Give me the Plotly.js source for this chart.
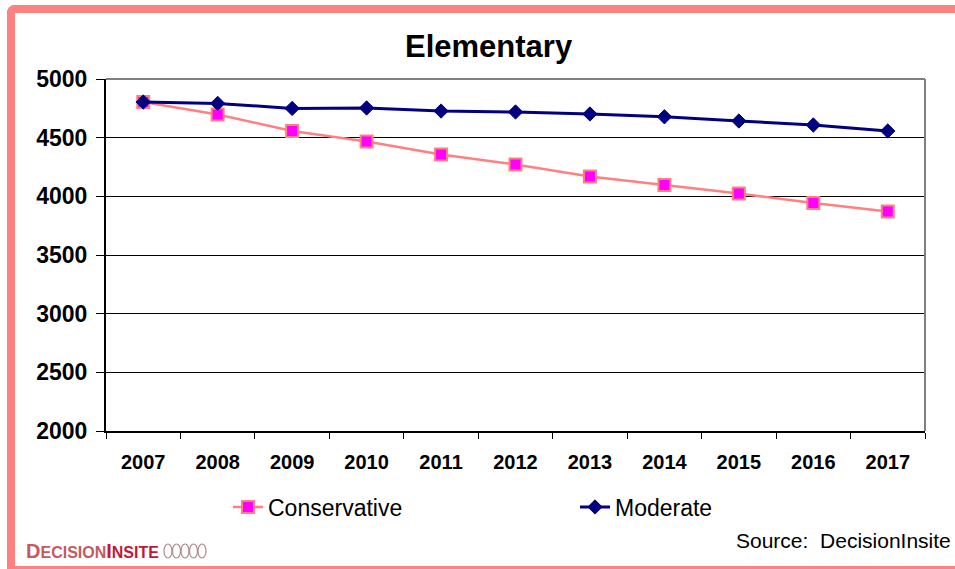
<!DOCTYPE html>
<html>
<head>
<meta charset="utf-8">
<script src="https://cdn.plot.ly/plotly-3.0.1.min.js"></script>
<style>
  html, body { margin: 0; padding: 0; background: #ffffff; }
  #wrap { position: relative; width: 955px; height: 569px; overflow: hidden; }
  #chart { position: absolute; left: 0; top: 0; width: 955px; height: 569px; }
  #frame {
    position: absolute; left: 7px; top: 5px; width: 948px; height: 553px;
    border-top: 8px solid #FF8080; border-left: 8px solid #FF8080; border-bottom: 3px solid #FF8080;
    border-top-left-radius: 8px; pointer-events: none; box-sizing: content-box;
  }
</style>
</head>
<body>
<div id="wrap">
  <div id="chart"></div>
  <div id="frame"></div>
</div>
<script>
// ---- data ----
const years = ["2007","2008","2009","2010","2011","2012","2013","2014","2015","2016","2017"];
const conservative = [4804, 4697, 4557, 4467, 4357, 4271, 4169, 4097, 4024, 3943, 3871];
const moderate = [4804, 4792, 4749, 4753, 4727, 4719, 4702, 4678, 4642, 4608, 4557];
const seriesNames = ["Conservative", "Moderate"];
const chartTitle = "Elementary";
const yTicks = [2000, 2500, 3000, 3500, 4000, 4500, 5000];

// ---- layout helpers (pixel -> paper) ----
const L = 106, R = 925, T = 79, B = 431;
const px = x => (x - L) / (R - L);
const py = y => (B - y) / (B - T);

const FONT = "Arial, 'Liberation Sans', sans-serif";

const traces = [
  {
    x: years, y: conservative, name: seriesNames[0], type: "scatter", mode: "lines+markers",
    line: { color: "#FF8080", width: 2.5 },
    marker: { symbol: "square", size: 12, color: "#FF00FF", line: { color: "#FF8080", width: 2 } }
  },
  {
    x: years, y: moderate, name: seriesNames[1], type: "scatter", mode: "lines+markers",
    line: { color: "#000080", width: 3 },
    marker: { symbol: "diamond", size: 11, color: "#000080", line: { color: "#000080", width: 1 } }
  }
];

const shapes = [
  // grey plot frame top & right
  { type: "line", xref: "paper", yref: "paper", x0: 0, x1: 1, y0: 1, y1: 1, line: { color: "#808080", width: 2 }, layer: "above" },
  { type: "line", xref: "paper", yref: "paper", x0: 1, x1: 1, y0: 0, y1: 1, line: { color: "#808080", width: 2 }, layer: "above" }
];
// logo rings
for (let i = 0; i < 5; i++) {
  const cx = 168 + i * 8.5;
  shapes.push({ type: "circle", xref: "paper", yref: "paper",
    x0: px(cx - 4), x1: px(cx + 4), y0: py(558), y1: py(544),
    line: { color: "#B08888", width: 1.2 }, fillcolor: "rgba(0,0,0,0)", layer: "above" });
}

const layout = {
  width: 955, height: 569,
  margin: { l: L, r: 955 - R, t: T, b: 569 - B, pad: 0 },
  paper_bgcolor: "#ffffff", plot_bgcolor: "#ffffff",
  font: { family: FONT, color: "#000000" },
  showlegend: true,
  legend: {
    orientation: "h", x: px(228), xanchor: "left", y: py(507), yanchor: "middle",
    font: { family: FONT, size: 23, color: "#000000" },
    entrywidth: 302, entrywidthmode: "pixels", bgcolor: "rgba(0,0,0,0)", traceorder: "normal"
  },
  xaxis: {
    type: "category", range: [-0.5, 10.5], tickson: "boundaries", ticks: "outside", ticklen: 6, tickcolor: "#000000", tickwidth: 1,
    showline: true, linecolor: "#000000", linewidth: 2, showgrid: false, zeroline: false,
    tickfont: { family: FONT, size: 20, color: "#000000", weight: "bold" },
    ticklabelstandoff: 12, fixedrange: true
  },
  yaxis: {
    range: [2000, 5000], tickvals: yTicks, ticktext: yTicks.map(String),
    ticks: "outside", ticklen: 8, tickcolor: "#000000", tickwidth: 1,
    showline: true, linecolor: "#000000", linewidth: 2,
    showgrid: true, gridcolor: "#000000", gridwidth: 1, zeroline: false,
    tickfont: { family: FONT, size: 23, color: "#000000", weight: "bold" },
    ticklabelstandoff: 4, fixedrange: true
  },
  shapes: shapes,
  annotations: [
    { text: "<b>" + chartTitle + "</b>", xref: "paper", yref: "paper", x: px(488.5), y: py(46),
      xanchor: "center", yanchor: "middle", showarrow: false, font: { family: FONT, size: 31, color: "#000000" } },
    { text: "Source:\u00a0 DecisionInsite", xref: "paper", yref: "paper", x: px(953), y: py(540),
      xanchor: "right", yanchor: "middle", showarrow: false, font: { family: FONT, size: 21, color: "#000000" } },
    { text: "<b><span style='color:#C65A5E'><span style='font-size:20px'>D</span>ECISION</span><span style='color:#C0183A'><span style='font-size:20px'>I</span>NSITE</span></b>",
      xref: "paper", yref: "paper", x: px(24), y: py(551), xanchor: "left", yanchor: "middle",
      showarrow: false, font: { family: FONT, size: 16, color: "#C65A5E" } }
  ]
};

Plotly.newPlot("chart", traces, layout, { displayModeBar: false, staticPlot: true });
</script>
</body>
</html>
